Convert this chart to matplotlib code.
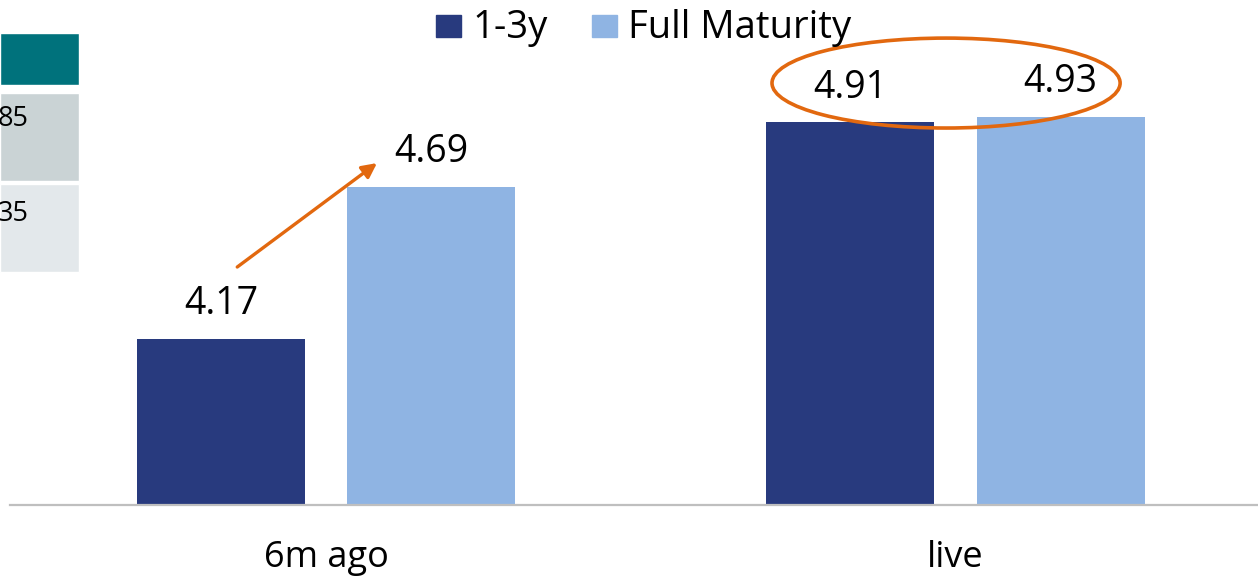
import matplotlib.pyplot as plt
import matplotlib.patches as mpatches
import numpy as np

plt.rcParams['font.family'] = ['Open Sans', 'DejaVu Sans']

# data
categories = ['6m ago', 'live']
short_vals = [4.17, 4.91]
full_vals = [4.69, 4.93]
series_names = ['1-3y', 'Full Maturity']
table_vals = ['85', '35']

dark = '#283A7E'
light = '#8FB4E3'
orange = '#E2680F'

W, H = 1258, 576
fig = plt.figure(figsize=(W / 100, H / 100), dpi=100)
ax = fig.add_axes([0, (H - 505) / H, 1, 505 / H])

x = np.arange(len(categories))
bw = 0.267
off = 0.167
b1 = ax.bar(x - off, short_vals, bw, color=dark)
b2 = ax.bar(x + off, full_vals, bw, color=light)

ax.set_ylim(3.6, 3.6 + 505 / 292)
ax.set_xlim(-326 / 629.5, (W - 326) / 629.5)
ax.axis('off')
ax.axhline(3.6, xmin=10 / W, xmax=1, color='#BFBFBF', lw=1.6, clip_on=False)

# value labels
for bars in (b1, b2):
    for r in bars:
        ax.annotate(f'{r.get_height():.2f}', (r.get_x() + r.get_width() / 2, r.get_height()),
                    xytext=(0, 25), textcoords='offset points', ha='center', va='center',
                    fontsize=27)

# category labels
for xi, c in zip(x, categories):
    ax.annotate(c, (xi, 3.6), xytext=(0, -38), textcoords='offset points',
                ha='center', va='center', fontsize=26, annotation_clip=False)

# arrow from 6m ago 1-3y to full maturity
ax.annotate('', xy=(0.081, 4.771), xytext=(-0.141, 4.415),
            arrowprops=dict(arrowstyle='-|>', color=orange, lw=2.4, mutation_scale=22,
                            shrinkA=0, shrinkB=0))

# ellipse around live values
ell = mpatches.Ellipse((0.985, 5.045), 0.553, 0.308, fill=False, ec=orange, lw=2.6,
                       clip_on=False)
ax.add_patch(ell)

# legend
leg_items = [(436, 472, dark, series_names[0]), (592, 628, light, series_names[1])]
for sx, tx, col, name in leg_items:
    fig.patches.append(mpatches.Rectangle((sx / W, 1 - 37 / H), 25 / W, 22 / H,
                                          transform=fig.transFigure, color=col))
    fig.text(tx / W, 1 - 38 / H, name, fontsize=27.5, va='baseline', ha='left')

# partial table at the left edge
cells = [(33, 85, '#00727C'), (93, 181, '#CAD3D5'), (184, 272, '#E3E8EB')]
for top, bot, col in cells:
    fig.patches.append(mpatches.Rectangle((0, 1 - bot / H), 79 / W, (bot - top) / H,
                                          transform=fig.transFigure, fc=col, ec='white', lw=1))
for yc, t in zip([119, 214], table_vals):
    fig.text(29 / W, 1 - yc / H, t, fontsize=19.5, ha='right', va='center')

plt.savefig('out.png', dpi=100)
